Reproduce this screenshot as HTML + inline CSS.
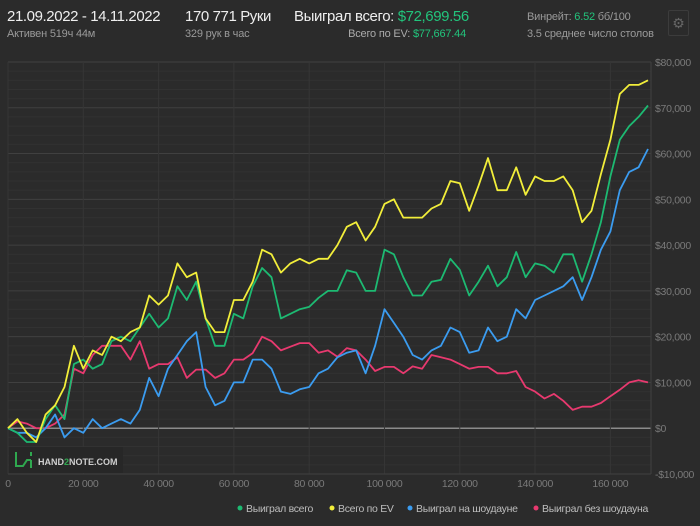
<!DOCTYPE html>
<html><head><meta charset="utf-8">
<style>
html,body{margin:0;padding:0;background:#2b2b2b;}
body{width:700px;height:526px;position:relative;overflow:hidden;font-family:"Liberation Sans",sans-serif;color:#ddd;}
.t{position:absolute;white-space:nowrap;}
.big{font-size:15px;color:#eee;letter-spacing:-0.4px;}
.sm{font-size:11px;color:#9a9a9a;letter-spacing:-0.2px;}
.g{color:#22c47c;}
</style></head>
<body>
<div class="t big" style="left:7px;top:8px">21.09.2022 - 14.11.2022</div>
<div class="t sm" style="left:7px;top:28px">Активен 519ч 44м</div>
<div class="t big" style="left:185px;top:8px">170 771 Руки</div>
<div class="t sm" style="left:185px;top:28px">329 рук в час</div>
<div class="t big" style="left:294px;top:8px">Выиграл всего: <span class="g">$72,699.56</span></div>
<div class="t sm" style="right:234px;top:28px;color:#aaa">Всего по EV: <span class="g">$77,667.44</span></div>
<div class="t sm" style="left:527px;top:11px">Винрейт: <span class="g">6.52</span> бб/100</div>
<div class="t sm" style="left:527px;top:28px">3.5 среднее число столов</div>
<div class="t" style="left:668px;top:10px;width:19px;height:24px;border:1px solid #3c3c3c;border-radius:2px;color:#666;font-size:14px;text-align:center;line-height:24px">⚙</div>

<svg id="chart" width="700" height="526" style="position:absolute;left:0;top:0"></svg>

<script>
const hands = [];
for (let i = 0; i <= 68; i++) hands.push(i * 2500);
const wonTotal = [0,-1,-3,-3,2,5,2,14,15,13,14,19,20,19,22,25,22,24,31,28,32,24,18,18,25,24,31,35,33,24,25,26,26.5,28.5,30,30,34.5,34,30,30,39,38,33,29,29,32,32.4,37,34.6,29,32,35.5,31,33,38.5,33,36,35.5,34,38,38,32,38,45,55,63,66,68,70.5];
const evTotal = [0,2,-1,-3,3,5,9,18,13,17,16,20,19,21,22,29,27,29,36,33,34,24,21,21,28,28,32,39,38,34,36,37,36,37,37,40,44,45,41,44,49,50,46,46,46,48,49,54,53.5,47.5,53,59,52,52,57,51,55,54,54,55,52,45,47.5,55.5,63,73,75,75,76];
const wonShowdown = [0,-1,-1,-2,0,3,-2,0,-1,2,0,1,2,1,4,11,7,13,16,19,21,9,5,6,10,10,15,15,13,8,7.5,8.5,9,12,13,15.5,16.5,17,12,18,26,23,20,16,15,17,18,22,21,16.5,17,22,19,20,26,24,28,29,30,31,33,28,33,39,43,52,56,57,61];
const wonNonShowdown = [0,1.5,1,0,0,1,3,13,12,16,18,18,18,15,19,13,14,14,15.5,11,12.8,12.8,11,12,15,15,16.4,20,19,17,17.8,18.6,18.6,16.5,17,15.6,17.5,17,15,12.5,13.4,13.4,12,13.5,13,16,15.5,15,14,13,13.4,13.4,12,12,12.5,9,8,6.5,7.5,6,4,4.7,4.7,5.5,7,8.4,10,10.5,10];
const yTicks = [80000,70000,60000,50000,40000,30000,20000,10000,0,-10000];
const yTickLabels = ["$80,000","$70,000","$60,000","$50,000","$40,000","$30,000","$20,000","$10,000","$0","-$10,000"];
const xTicks = [0,20000,40000,60000,80000,100000,120000,140000,160000];
const xTickLabels = ["0","20 000","40 000","60 000","80 000","100 000","120 000","140 000","160 000"];

const NS = "http://www.w3.org/2000/svg";
const svg = document.getElementById("chart");
const L = 8, R = 651, T = 62, B = 474;
const X = h => L + h / 170000 * 640;
const Y = v => T + (80000 - v) / 90000 * (B - T);
function mk(tag, attrs) { const e = document.createElementNS(NS, tag); for (const k in attrs) e.setAttribute(k, attrs[k]); svg.appendChild(e); return e; }

for (let v = -10000; v <= 80000; v += 2000) {
  if (v % 10000 === 0) continue;
  const l = mk("line", {x1: L, x2: R, y1: Y(v), y2: Y(v), stroke: "#323232", "stroke-width": 1});
  
  
}
yTicks.forEach((v, i) => {
  const l = mk("line", {x1: L, x2: R, y1: Y(v), y2: Y(v), stroke: v === 0 ? "#8a8a8a" : "#404040", "stroke-width": v === 0 ? 1.5 : 1});
  
  
  const t = mk("text", {x: 655, y: Y(v) + 4, fill: "#7a7a7a", "font-size": 10.5, "letter-spacing": -0.3, "font-family": "Liberation Sans, sans-serif"});
  t.textContent = yTickLabels[i];
  
  
});
xTicks.forEach((h, i) => {
  const l = mk("line", {x1: X(h), x2: X(h), y1: T, y2: B, stroke: "#363636", "stroke-width": 1});
  
  
  const t = mk("text", {x: X(h), y: 487, fill: "#7a7a7a", "font-size": 10.5, "letter-spacing": -0.3, "text-anchor": "middle", "font-family": "Liberation Sans, sans-serif"});
  t.textContent = xTickLabels[i];
  
  
});
const rb = mk("line", {x1: R, x2: R, y1: T, y2: B, stroke: "#404040"});


const bb = mk("line", {x1: L, x2: R, y1: B, y2: B, stroke: "#404040"});



const lg = mk("rect", {x: 9, y: 447, width: 114, height: 26, fill: "#272727"});


const lp = mk("path", {d: "M16 452 v6 M16 458 v8 h7 l4 -6 h4 M31 460 v8 M31 452 v4", stroke: "#2fa84f", "stroke-width": 2, fill: "none"});


const lt = mk("text", {x: 38, y: 465, fill: "#cfcfcf", "font-size": 9, "font-weight": "bold", "font-family": "Liberation Sans, sans-serif"});
lt.innerHTML = 'HAND<tspan fill="#2fa84f">2</tspan>NOTE.COM';



const series = [
  {vals: wonNonShowdown, color: "#e8396f", name: "series-won-non-showdown"},
  {vals: wonShowdown, color: "#3b9cf0", name: "series-won-showdown"},
  {vals: wonTotal, color: "#1dba72", name: "series-won-total"},
  {vals: evTotal, color: "#f2ee3a", name: "series-ev-total"}
];
series.forEach(s => {
  const d = s.vals.map((v, i) => (i ? "L" : "M") + X(hands[i]).toFixed(1) + " " + Y(v * 1000).toFixed(1)).join(" ");
  const p = mk("path", {d: d, stroke: s.color, "stroke-width": 1.8, fill: "none", "stroke-linejoin": "round"});
  
  
});

const legend = [
  {x: 240, c: "#1dba72", t: "Выиграл всего"},
  {x: 332, c: "#f2ee3a", t: "Всего по EV"},
  {x: 410, c: "#3b9cf0", t: "Выиграл на шоудауне"},
  {x: 536, c: "#e8396f", t: "Выиграл без шоудауна"}
];
legend.forEach(e => {
  const c = mk("circle", {cx: e.x, cy: 508, r: 2.5, fill: e.c});
  
  
  const t = mk("text", {x: e.x + 6, y: 512, fill: "#bdbdbd", "font-size": 10.5, "letter-spacing": -0.3, "font-family": "Liberation Sans, sans-serif"});
  t.textContent = e.t;
  
  
});
</script>
</body></html>
